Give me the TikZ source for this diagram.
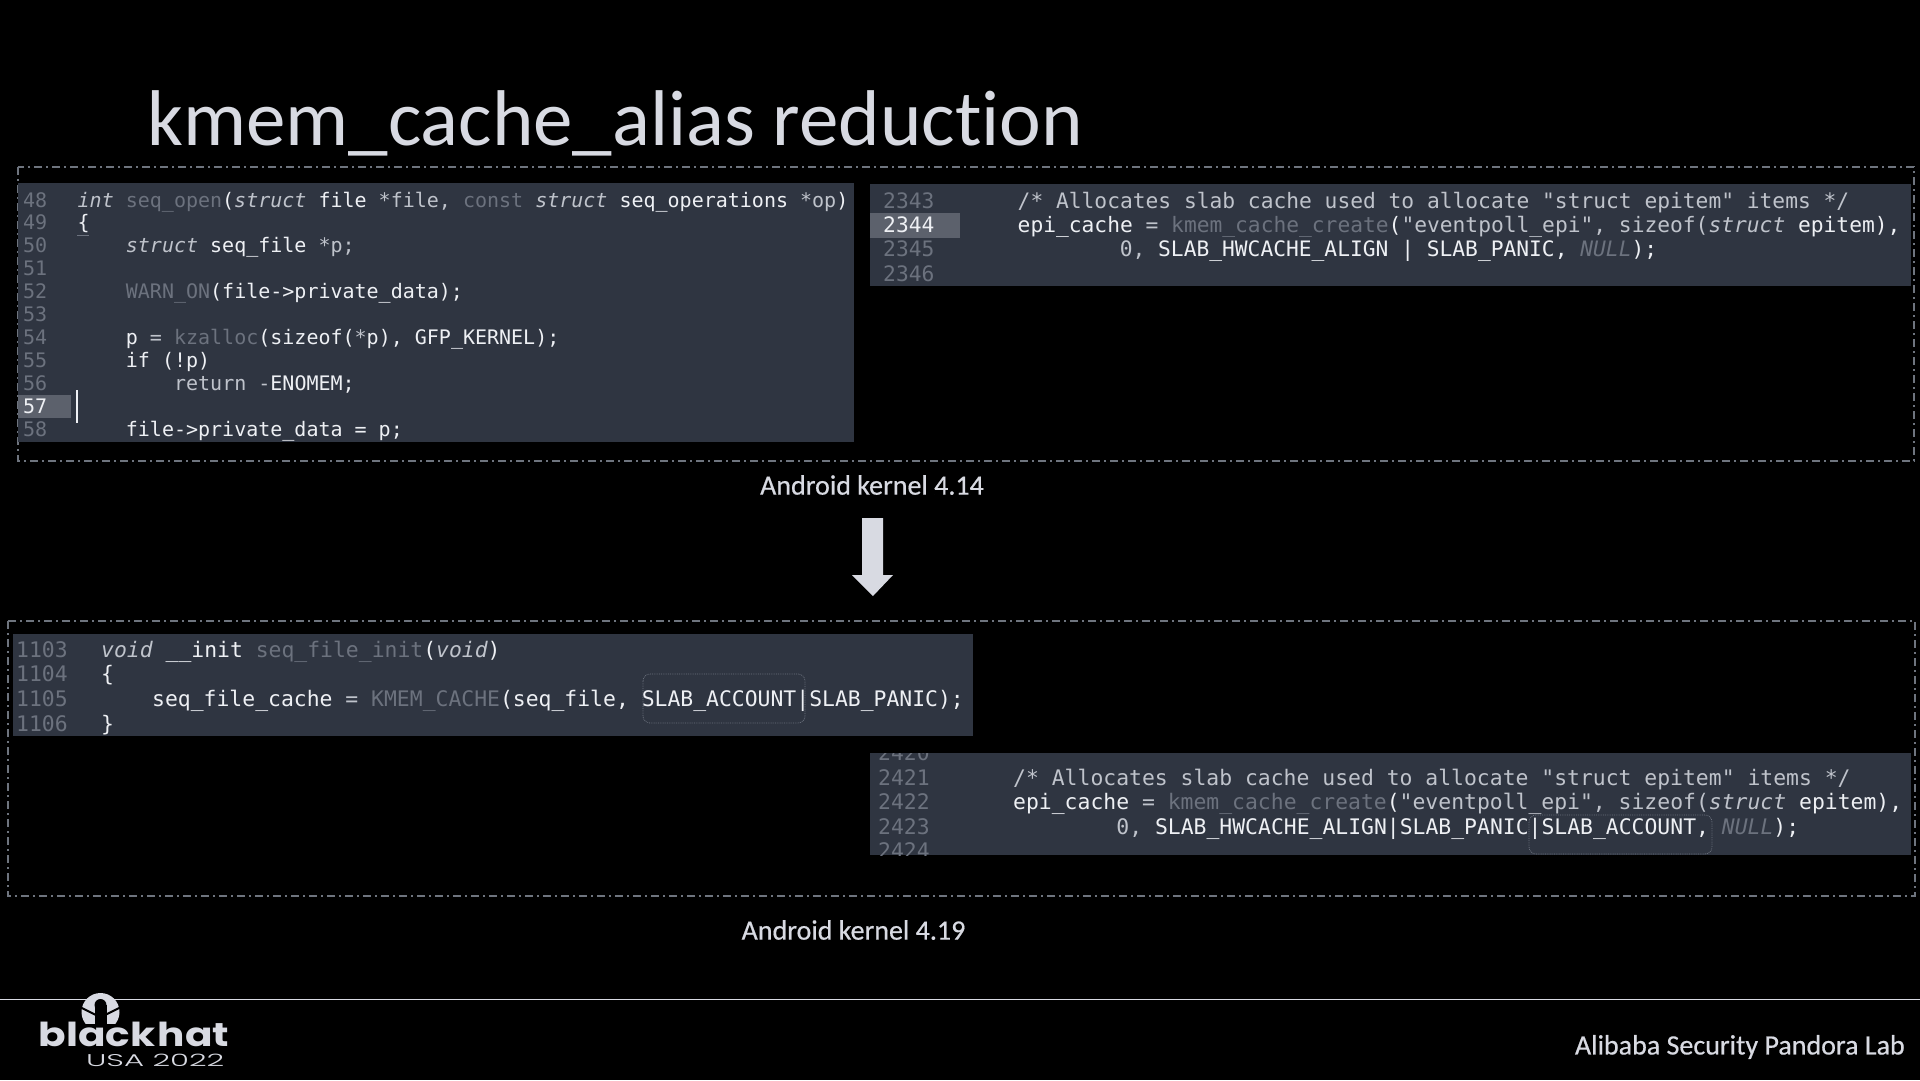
\documentclass[tikz,border=0pt]{standalone}
\usepackage{fontspec}
\newfontfamily\slidefont[Ligatures=NoCommon]{Carlito}
\newfontfamily\labelfont[Ligatures=NoCommon,FakeBold=0.5]{Carlito}
\newfontfamily\codefont{DejaVu Sans Mono}
\newfontfamily\logofont{Poppins}
\newfontfamily\logothin{Poppins Light}
\definecolor{panelcol}{HTML}{2F3541}
\definecolor{frontcol}{HTML}{D8DAE2}
\definecolor{dashcol}{HTML}{6E747E}
\definecolor{brightcol}{HTML}{EEF0F4}
\definecolor{midcol}{HTML}{BFC3CB}
\definecolor{dimcol}{HTML}{6C727E}
\definecolor{gutcol}{HTML}{5C616C}
\newcommand{\dm}[1]{{\color{dimcol}#1}}
\newcommand{\md}[1]{{\color{midcol}#1}}
\newcommand{\kw}[1]{{\itshape\color{midcol}#1}}
\tikzset{
  framebox/.style={draw=dashcol, line width=1.4pt, dash pattern=on 8pt off 4pt on 2pt off 4pt},
  panel/.style={fill=panelcol},
  gutter/.style={fill=gutcol},
  code/.style={anchor=base west, inner sep=0pt, text=brightcol},
  codea/.style={code, font=\codefont\fontsize{20}{24}\selectfont},
  codeb/.style={code, font=\codefont\fontsize{21.25}{25}\selectfont},
  codec/.style={code, font=\codefont\fontsize{21.4}{25}\selectfont},
  numa/.style={codea, text=dimcol},
  numb/.style={codeb, text=dimcol},
  numc/.style={codec, text=dimcol},
  caption/.style={inner sep=0pt, text=frontcol, font=\labelfont\fontsize{28}{32}\selectfont},
  markbox/.style={draw=dimcol, densely dotted, line width=0.8pt, rounded corners=7pt}
}
\begin{document}
\begin{tikzpicture}[x=1pt,y=-1pt]
  \fill[black] (0,0) rectangle (1920,1080);
  \useasboundingbox (0,0) rectangle (1920,1080);
  \node (title) [anchor=base west, inner sep=0pt, text=frontcol, font=\slidefont\fontsize{79}{90}\selectfont] at (147,145) {kmem\_cache\_alias reduction};

  \draw[framebox] (18,167) rectangle (1914,461);
  \draw[framebox] (8,621) rectangle (1915,896);

  \fill[panel] (18,183) rectangle (854,442);
  \fill[panel] (870,184) rectangle (1911,286);
  \fill[panel] (13,634) rectangle (973,736);
  \fill[panel] (870,753) rectangle (1911,855);
  \fill[gutter] (18,395) rectangle (71,418);
  \fill[gutter] (870,213) rectangle (960,238);

  \node (l48) [numa] at (23,207) {48};
  \node (l49) [numa] at (23,229.9) {49};
  \node (l50) [numa] at (23,252.8) {50};
  \node (l51) [numa] at (23,275.7) {51};
  \node (l52) [numa] at (23,298.6) {52};
  \node (l53) [numa] at (23,321.5) {53};
  \node (l54) [numa] at (23,344.4) {54};
  \node (l55) [numa] at (23,367.3) {55};
  \node (l56) [numa] at (23,390.2) {56};
  \node (l57) [numa, text=brightcol] at (23,413.1) {57};
  \node (l58) [numa] at (23,436) {58};
  \node (c48) [codea] at (77.5,207) {\kw{int} \dm{seq\_open}(\kw{struct} file \md{*file,} \dm{const} \kw{struct} seq\_operations \md{*op})};
  \node (c49) [codea] at (77.5,229.9) {\{};
  \node (c50) [codea] at (125.7,252.8) {\kw{struct} seq\_file \md{*p;}};
  \node (c52) [codea] at (125.7,298.6) {\dm{WARN\_ON}(file->private\_data);};
  \node (c54) [codea] at (125.7,344.4) {p \md{=} \dm{kzalloc}(sizeof(\md{*}p), GFP\_KERNEL);};
  \node (c55) [codea] at (125.7,367.3) {if (!p)};
  \node (c56) [codea] at (173.9,390.2) {\md{return -}ENOMEM;};
  \node (c58) [codea] at (125.7,436) {file->private\_data = p;};
  \draw[dimcol, line width=1pt] (77,235) -- (89,235);
  \draw[brightcol, line width=1.2pt] (77,390) -- (77,423);

  \node (l2343) [numb] at (883,208) {2343};
  \node (l2344) [numb, text=brightcol] at (883,232.4) {2344};
  \node (l2345) [numb] at (883,256.8) {2345};
  \node (l2346) [numb] at (883,281) {2346};
  \node (c2343) [codeb, text=midcol] at (1017.5,208) {/* Allocates slab cache used to allocate "struct epitem" items */};
  \node (c2344) [codeb] at (1017.5,232.4) {epi\_cache \md{=} \dm{kmem\_cache\_create}(\md{"eventpoll\_epi", sizeof(}\kw{struct} epitem),};
  \node (c2345) [codeb] at (1119.6,256.8) {\md{0,} SLAB\_HWCACHE\_ALIGN | SLAB\_PANIC, \dm{\itshape NULL});};

  \node (l1103) [numc] at (16,657) {1103};
  \node (l1104) [numc] at (16,681.7) {1104};
  \node (l1105) [numc] at (16,706.3) {1105};
  \node (l1106) [numc] at (16,731) {1106};
  \node (c1103) [codec] at (101,657) {\kw{void} \_\_init \dm{seq\_file\_init}(\kw{void})};
  \node (c1104) [codec] at (101,681.7) {\{};
  \node (c1105) [codec] at (152,706.3) {seq\_file\_cache \md{=} \dm{KMEM\_CACHE}(seq\_file, SLAB\_ACCOUNT|SLAB\_PANIC);};
  \node (c1106) [codec] at (101,731) {\}};
  \draw[markbox] (643,674) rectangle (805,723);

  \begin{scope}
    \clip (870,753) rectangle (1911,855);
    \node (l2420) [numc] at (878,760.5) {2420};
    \node (l2424) [numc] at (878,858) {2424};
    \draw[markbox] (1529,815) rectangle (1712,854);
  \end{scope}
  \node (l2421) [numc] at (878,785) {2421};
  \node (l2422) [numc] at (878,809) {2422};
  \node (l2423) [numc] at (878,834) {2423};
  \node (c2421) [codec, text=midcol] at (1013,785) {/* Allocates slab cache used to allocate "struct epitem" items */};
  \node (c2422) [codec] at (1013,809) {epi\_cache \md{=} \dm{kmem\_cache\_create}(\md{"eventpoll\_epi", sizeof(}\kw{struct} epitem),};
  \node (c2423) [codec] at (1116.2,834) {\md{0,} SLAB\_HWCACHE\_ALIGN|SLAB\_PANIC|SLAB\_ACCOUNT, \dm{\itshape NULL});};

  \node (old) [caption] at (872,485) {Android kernel 4.14};
  \node (new) [caption] at (853.5,930) {Android kernel 4.19};
  \fill[frontcol] (862,518) -- (883,518) -- (883,575) -- (893,575) -- (873,596) -- (852,575) -- (862,575) -- cycle;

  \draw[frontcol, line width=1pt] (0,999) -- (1920,999);
  \fill[frontcol] (100.5,1012) circle (19);
  \fill[black] (94.5,1005) rectangle (106.5,1026);
  \fill[black] (100.5,1005) circle (6);
  \draw[black, line width=2pt] (80,1007) -- (96,1015);
  \draw[black, line width=2pt] (121,1007) -- (105,1015);
  \fill[black] (78,1024) rectangle (124,1034);
  \node (hat) [anchor=base west, inner sep=0pt, text=frontcol, font=\logofont\bfseries\fontsize{33}{36}\selectfont] at (38.5,1046) {\scalebox{1.23}[1]{black\hspace{2pt}hat}};
  \node (usa) [anchor=base east, inner sep=0pt, text=frontcol, font=\logothin\fontsize{17}{20}\selectfont] at (224.5,1066) {\scalebox{1.81}[1]{USA 2022}};
  \node (lab) [anchor=east, inner sep=0pt, text=frontcol, font=\labelfont\fontsize{28}{32}\selectfont] at (1905,1047) {Alibaba Security Pandora Lab};
\end{tikzpicture}
\end{document}
